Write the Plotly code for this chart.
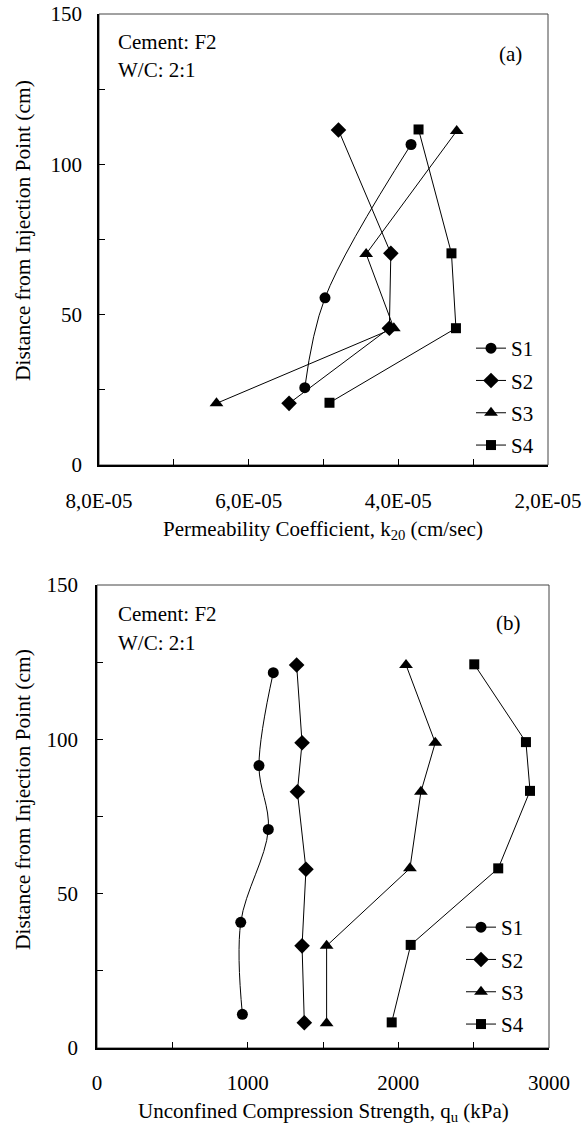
import plotly.graph_objects as go

# ---------------- data: panel (a) permeability ----------------
series_names = ["S1", "S2", "S3", "S4"]
a_s1_k = [5.25e-5, 4.98e-5, 3.83e-5]
a_s1_d = [25.7, 55.6, 106.6]
a_s2_k = [5.46e-5, 4.12e-5, 4.10e-5, 4.80e-5]
a_s2_d = [20.5, 45.5, 70.4, 111.4]
a_s3_k = [6.43e-5, 4.06e-5, 4.43e-5, 3.22e-5]
a_s3_d = [20.5, 45.5, 70.2, 111.1]
a_s4_k = [4.92e-5, 3.23e-5, 3.29e-5, 3.73e-5]
a_s4_d = [20.7, 45.5, 70.4, 111.6]
a_x_tickvals = [8e-5, 6e-5, 4e-5, 2e-5]
a_x_ticktext = ["8,0E-05", "6,0E-05", "4,0E-05", "2,0E-05"]

# ---------------- data: panel (b) strength ----------------
b_s1_q = [965, 954, 1137, 1075, 1170]
b_s1_d = [10.9, 40.7, 70.8, 91.5, 121.6]
b_s2_q = [1376, 1361, 1387, 1330, 1361, 1325]
b_s2_d = [8.2, 33.1, 57.9, 83.0, 98.9, 124.1]
b_s3_q = [1524, 1524, 2077, 2150, 2245, 2051]
b_s3_d = [8.0, 33.1, 58.2, 83.0, 98.9, 124.1]
b_s4_q = [1956, 2082, 2663, 2874, 2847, 2504]
b_s4_d = [8.3, 33.4, 58.2, 83.3, 99.1, 124.3]
b_x_tickvals = [0, 1000, 2000, 3000]
y_tickvals = [0, 50, 100, 150]

FONT = "Times New Roman, Liberation Serif, DejaVu Serif, serif"
FS = 21
W, H = 587, 1127
symbols = ["circle", "diamond", "triangle-up", "square"]
msizes = [11, 12, 12, 10]
shapes_line = ["spline", "linear", "linear", "linear"]

fig = go.Figure()

a_data = [(a_s1_k, a_s1_d), (a_s2_k, a_s2_d), (a_s3_k, a_s3_d), (a_s4_k, a_s4_d)]
b_data = [(b_s1_q, b_s1_d), (b_s2_q, b_s2_d), (b_s3_q, b_s3_d), (b_s4_q, b_s4_d)]

for i, (xv, yv) in enumerate(a_data):
    fig.add_trace(go.Scatter(
        x=xv, y=yv, name=series_names[i], mode="lines+markers",
        line=dict(color="black", width=1, shape=shapes_line[i]),
        marker=dict(symbol=symbols[i], size=msizes[i], color="black"),
        xaxis="x", yaxis="y", legend="legend", legendgroup="a" + str(i)))

for i, (xv, yv) in enumerate(b_data):
    fig.add_trace(go.Scatter(
        x=xv, y=yv, name=series_names[i], mode="lines+markers",
        line=dict(color="black", width=1, shape=shapes_line[i]),
        marker=dict(symbol=symbols[i], size=msizes[i], color="black"),
        xaxis="x2", yaxis="y2", legend="legend2", legendgroup="b" + str(i)))

def px_x(p):
    return p / W

def px_y(p):
    return 1 - p / H

# plot areas in page pixels
A = dict(l=99, r=548, t=14, b=465)
B = dict(l=97, r=549, t=585, b=1048)

axis_common = dict(
    showgrid=False, zeroline=False, showline=True, linecolor="black", linewidth=1.5,
    ticks="inside", ticklen=6, tickcolor="black", tickwidth=1, automargin=False,
    ticklabeloverflow="allow",
    tickfont=dict(family=FONT, size=FS, color="black"),
)

fig.update_layout(
    width=W, height=H,
    margin=dict(l=0, r=0, t=0, b=0, autoexpand=False),
    paper_bgcolor="white", plot_bgcolor="white",
    font=dict(family=FONT, size=FS, color="black"),
    showlegend=True,
    xaxis=dict(domain=[px_x(A["l"]), px_x(A["r"])], range=[8e-5, 2e-5], anchor="y",
               tickmode="array", tickvals=a_x_tickvals, ticktext=a_x_ticktext,
               minor=dict(dtick=1e-5, tick0=0, ticks="inside", ticklen=6, tickcolor="black"),
               ticklabelstandoff=16, **axis_common),
    yaxis=dict(domain=[px_y(A["b"]), px_y(A["t"])], range=[0, 150], anchor="x",
               tickmode="array", tickvals=y_tickvals,
               minor=dict(dtick=25, tick0=0, ticks="inside", ticklen=6, tickcolor="black"),
               ticklabelstandoff=11, **axis_common),
    xaxis2=dict(domain=[px_x(B["l"]), px_x(B["r"])], range=[0, 3000], anchor="y2",
                tickmode="array", tickvals=b_x_tickvals,
                minor=dict(dtick=500, tick0=0, ticks="inside", ticklen=6, tickcolor="black"),
                ticklabelstandoff=15, **axis_common),
    yaxis2=dict(domain=[px_y(B["b"]), px_y(B["t"])], range=[0, 150], anchor="x2",
                tickmode="array", tickvals=y_tickvals,
                minor=dict(dtick=25, tick0=0, ticks="inside", ticklen=6, tickcolor="black"),
                ticklabelstandoff=13, **axis_common),
    legend=dict(x=px_x(471), y=px_y(328), xanchor="left", yanchor="top",
                bgcolor="rgba(0,0,0,0)", font=dict(family=FONT, size=FS),
                tracegroupgap=2, itemwidth=30),
    legend2=dict(x=px_x(461), y=px_y(907), xanchor="left", yanchor="top",
                 bgcolor="rgba(0,0,0,0)", font=dict(family=FONT, size=FS),
                 tracegroupgap=2, itemwidth=30),
)

# plot frame (top/right borders)
for xr, yr in [("x domain", "y domain"), ("x2 domain", "y2 domain")]:
    fig.add_shape(type="rect", xref=xr, yref=yr, x0=0, x1=1, y0=0, y1=1,
                  line=dict(color="#444444", width=1), layer="below")

ann = []
def add_text(text, x, y, xanchor="left", angle=0, size=FS):
    ann.append(dict(text=text, x=px_x(x), y=px_y(y), xref="paper", yref="paper",
                    xanchor=xanchor, yanchor="middle", showarrow=False, textangle=angle,
                    font=dict(family=FONT, size=size, color="black")))

add_text("Cement: F2", 116, 42)
add_text("W/C: 2:1", 116, 70)
add_text("(a)", 510, 54, xanchor="center")
add_text("Cement: F2", 116, 614)
add_text("W/C: 2:1", 116, 643)
add_text("(b)", 508, 623, xanchor="center")
add_text("Permeability Coefficient, k<sub>20</sub> (cm/sec)", 323, 530, xanchor="center")
add_text("Unconfined Compression Strength, q<sub>u</sub> (kPa)", 323, 1112, xanchor="center")
add_text("Distance from Injection Point (cm)", 23, 231, xanchor="center", angle=-90, size=21.5)
add_text("Distance from Injection Point (cm)", 23, 800, xanchor="center", angle=-90, size=21.5)
fig.update_layout(annotations=ann)

# remove the default 8px page margin so the figure fills the window exactly
fig.write_html("out.html", config={"displayModeBar": False},
               post_script="document.body.style.margin='0';")
